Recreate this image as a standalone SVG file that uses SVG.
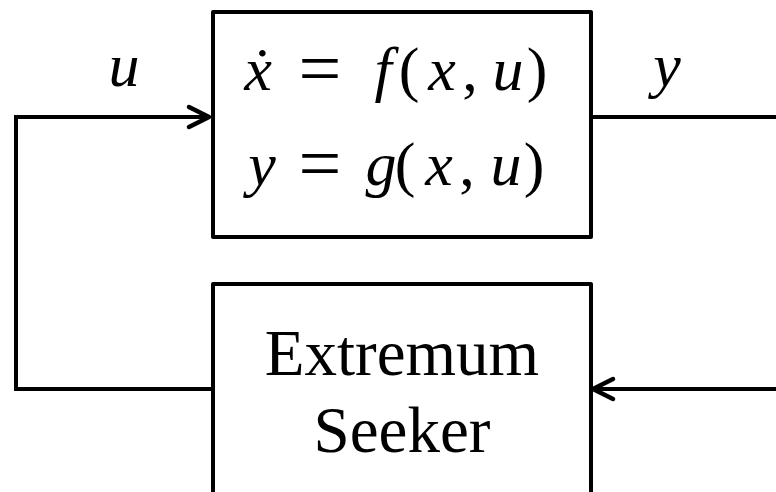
<svg xmlns="http://www.w3.org/2000/svg" width="776" height="492" viewBox="0 0 776 492">
<style>
.box{fill:#fff;stroke:#000;stroke-width:4;stroke-linejoin:round}
.wire{fill:none;stroke:#000;stroke-width:4;stroke-linejoin:miter}
.m{font-family:"Liberation Serif","Times New Roman",serif;font-size:62px;fill:#000;text-anchor:middle}
.eq{font-size:76px}
.i{font-style:italic}
.lbl{font-family:"Liberation Serif","Times New Roman",serif;font-size:65px;fill:#000;text-anchor:middle}
</style>
<defs>
<marker id="arr" markerUnits="userSpaceOnUse" markerWidth="30" markerHeight="30" viewBox="0 0 30 30" refX="22" refY="12" orient="auto" overflow="visible">
<path d="M2 2 L22 12 L2 22" fill="none" stroke="#000" stroke-width="4.5" stroke-linecap="round" stroke-linejoin="round"/>
</marker>
</defs>
<rect width="776" height="492" fill="#fff"/>
<g id="connectors">
<path class="wire" d="M213 389 H16 V117 H209" marker-end="url(#arr)"/>
<path class="wire" d="M591 117 H790 V389 H593" marker-end="url(#arr)"/>
<text class="m i" x="124" y="86">u</text>
<text class="m i" x="667" y="86">y</text>
</g>
<g id="plant">
<rect class="box" x="213" y="12" width="378" height="225"/>
<text class="m i" x="258" y="90">ẋ</text>
<text class="m eq" x="320" y="94">=</text>
<text class="m i" x="383" y="90">f</text>
<text class="m" x="409" y="90">(</text>
<text class="m i" x="442" y="90">x</text>
<text class="m" x="470" y="90">,</text>
<text class="m i" x="508" y="90">u</text>
<text class="m" x="537" y="90">)</text>
<text class="m i" x="262" y="185">y</text>
<text class="m eq" x="320" y="189">=</text>
<text class="m i" x="381" y="185">g</text>
<text class="m" x="405" y="185">(</text>
<text class="m i" x="439" y="185">x</text>
<text class="m" x="467" y="185">,</text>
<text class="m i" x="506" y="185">u</text>
<text class="m" x="534" y="185">)</text>
</g>
<g id="seeker">
<rect class="box" x="213" y="284" width="378" height="240"/>
<text class="lbl" x="402" y="375">Extremum</text>
<text class="lbl" x="402" y="452">Seeker</text>
</g>
</svg>
